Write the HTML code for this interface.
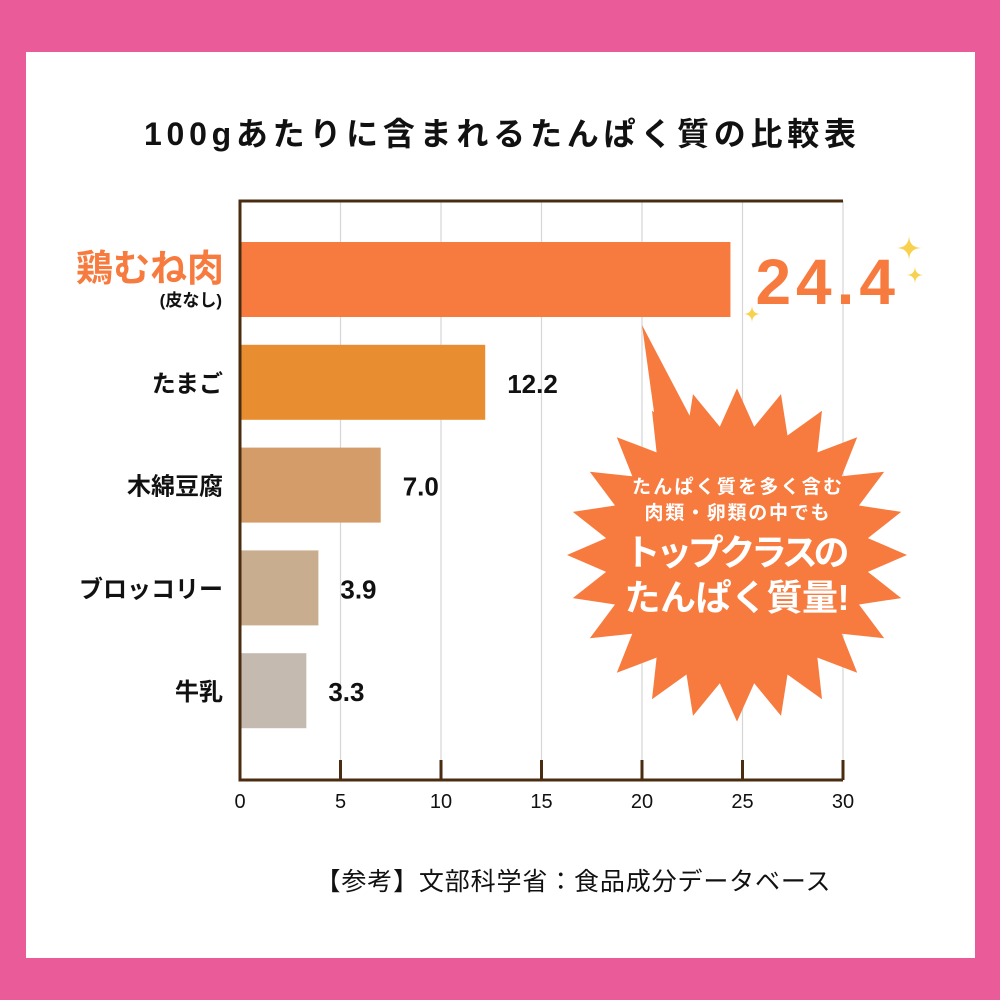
<!DOCTYPE html>
<html><head><meta charset="utf-8">
<style>
html,body{margin:0;padding:0;width:1000px;height:1000px;overflow:hidden;background:#EA5B99;}
svg{display:block;font-family:"Liberation Sans","Noto Sans CJK JP",sans-serif;}
</style></head><body>
<svg id="chart" width="1000" height="1000" viewBox="0 0 1000 1000">
  <rect x="0" y="0" width="1000" height="1000" fill="#EA5B99"/>
  <rect x="26" y="52" width="949" height="906" fill="#ffffff"/>
  <text x="500" y="145" text-anchor="middle" font-size="32" font-weight="bold" fill="#111" textLength="712">100gあたりに含まれるたんぱく質の比較表</text>
  <g id="grid"></g>
  <g id="bars"></g>
  <g id="axis"></g>
  <g id="burst-layer"></g>
  <text x="573" y="890" text-anchor="middle" font-size="25" fill="#111" textLength="515">【参考】文部科学省：食品成分データベース</text>
</svg>
<script>
const categories = ["鶏むね肉","たまご","木綿豆腐","ブロッコリー","牛乳"];
const values = [24.4, 12.2, 7.0, 3.9, 3.3];
const valueLabels = ["24.4","12.2","7.0","3.9","3.3"];
const ticks = [0,5,10,15,20,25,30];
const colors = ["#F77B3F","#E98E30","#D39C68","#C9AD8F","#C4BAB0"];

const NS = "http://www.w3.org/2000/svg";
const X0 = 240, X1 = 843, YTOP = 201, YBOT = 780;
const xs = v => X0 + (v - 0) / (30 - 0) * (X1 - X0);
const bandTop = i => 242 + i * 102.8;
const BH = 75;
function mk(tag, attrs, parent){const e=document.createElementNS(NS,tag);for(const k in attrs)e.setAttribute(k,attrs[k]);parent.appendChild(e);return e;}

const grid = document.getElementById('grid');
ticks.forEach((t,i)=>{
  if(t===0) return;
  const l = mk('line',{x1:xs(t),x2:xs(t),y1:YTOP,y2:YBOT,stroke:'#d6d6d6','stroke-width':1.2},grid);
  
  
});

const bars = document.getElementById('bars');
values.forEach((v,i)=>{
  const y = bandTop(i);
  const r = mk('rect',{x:X0,y:y,width:xs(v)-X0,height:BH,fill:colors[i]},bars);
  
  
  if(i===0){
    const t = mk('text',{x:224,y:y+39,'text-anchor':'end','font-size':37,'font-weight':'bold',fill:'#F77B3F'},bars);
    t.textContent = categories[i];
    
    
    const s = mk('text',{x:222,y:y+64,'text-anchor':'end','font-size':17,'font-weight':'bold',fill:'#111'},bars);
    s.textContent = "(皮なし)";
    
    
    const vl = mk('text',{x:xs(v)+25,y:y+62,'font-size':64,'font-weight':'bold',fill:'#F77B3F','letter-spacing':'5'},bars);
    vl.textContent = valueLabels[i];
    
    
  } else {
    const t = mk('text',{x:223,y:y+47,'text-anchor':'end','font-size':24,'font-weight':'bold',fill:'#111'},bars);
    t.textContent = categories[i];
    
    
    const vl = mk('text',{x:xs(v)+22,y:y+48,'font-size':26,'font-weight':'bold',fill:'#111'},bars);
    vl.textContent = valueLabels[i];
    
    
  }
});

const axis = document.getElementById('axis');
const frame = mk('path',{d:`M${X1} ${YTOP} H${X0} V${YBOT} H${X1}`,fill:'none',stroke:'#4a2c10','stroke-width':3},axis);


ticks.forEach(t=>{
  const tk = mk('line',{x1:xs(t),x2:xs(t),y1:760,y2:YBOT,stroke:'#4a2c10','stroke-width':3},axis);
  
  
  const tl = mk('text',{x:xs(t),y:808,'text-anchor':'middle','font-size':20,fill:'#111'},axis);
  tl.textContent = t;
  
  
});

// burst
const bl = document.getElementById('burst-layer');
const cx=737, cy=555, N=24;
let pts=[];
for(let k=0;k<N*2;k++){
  const a = -Math.PI/2 + k*Math.PI/N;
  const r = (k%2===0)?170:132;
  pts.push((cx+r*Math.cos(a)).toFixed(1)+','+(cy+r*Math.sin(a)*0.98).toFixed(1));
}
const burst = mk('polygon',{points:pts.join(' '),fill:'#F77B3F'},bl);


const ptr = mk('polygon',{points:'642,325 705,445 662,470',fill:'#F77B3F'},bl);


const lines = [["たんぱく質を多く含む",493,19,210],["肉類・卵類の中でも",519,19,185],["トップクラスの",565,36,225],["たんぱく質量!",610,36,225]];
lines.forEach((ln,i)=>{
  const t = mk('text',{x:737,y:ln[1],'text-anchor':'middle','font-size':ln[2],'font-weight':'bold',fill:'#fff',textLength:ln[3]},bl);
  t.textContent = ln[0];
  
  
});
function star(x,y,r,name){
  const p = mk('path',{d:`M${x} ${y-r} Q${x} ${y} ${x+r} ${y} Q${x} ${y} ${x} ${y+r} Q${x} ${y} ${x-r} ${y} Q${x} ${y} ${x} ${y-r}Z`,fill:'#F8D24E'},bl);
  
  
}
star(909,248,13,'sparkle-1');star(915,275,9,'sparkle-2');star(752,314,9,'sparkle-3');
</script>
</body></html>
